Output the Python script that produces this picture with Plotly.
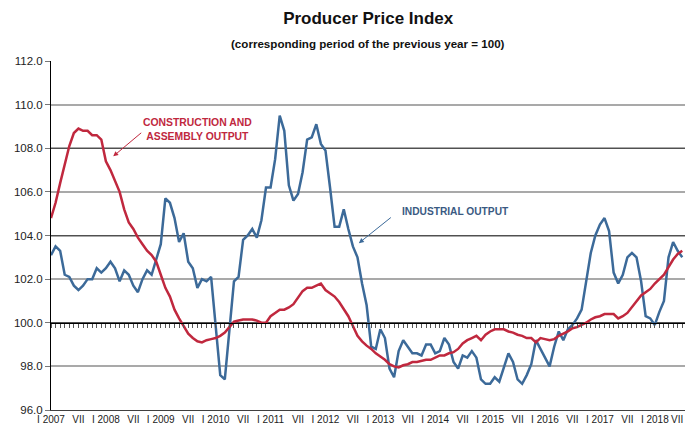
import plotly.graph_objects as go

# monthly index, Jan 2007 = 0 ... Jul 2018 = 138
tick_labels = ["I 2007", "VII", "I 2008", "VII", "I 2009", "VII", "I 2010", "VII",
               "I 2011", "VII", "I 2012", "VII", "I 2013", "VII", "I 2014", "VII",
               "I 2015", "VII", "I 2016", "VII", "I 2017", "VII", "I 2018", "VII"]

industrial = [
    103.1, 103.5, 103.3, 102.2, 102.1, 101.7, 101.5, 101.7, 102.0, 102.0,
    102.5, 102.3, 102.5, 102.8, 102.5, 101.9, 102.4, 102.2, 101.7, 101.4,
    102.0, 102.4, 102.2, 102.9, 103.6, 105.7, 105.5, 104.8, 103.7, 104.1,
    102.8, 102.5, 101.6, 102.0, 101.9, 102.1, 99.8, 97.6, 97.4, 99.7,
    101.9, 102.1, 103.8, 104.0, 104.3, 103.9, 104.7, 106.2, 106.2, 107.5,
    109.5, 108.8, 106.3, 105.6, 105.9, 106.9, 108.4, 108.5, 109.1, 108.2,
    107.9, 106.2, 104.4, 104.4, 105.2, 104.3, 103.5, 103.0, 101.8, 100.8,
    98.9, 98.8, 99.7, 99.3, 97.9, 97.5, 98.7, 99.2, 98.9, 98.6,
    98.6, 98.5, 99.0, 99.0, 98.6, 98.7, 99.3, 99.0, 98.2, 97.9,
    98.5, 98.4, 98.7, 98.4, 97.4, 97.2, 97.2, 97.5, 97.3, 97.9,
    98.6, 98.2, 97.4, 97.2, 97.6, 98.1, 99.2, 98.8, 98.4, 98.0,
    98.9, 99.6, 99.2, 99.7, 99.9, 100.2, 100.6, 101.9, 103.2, 104.0,
    104.5, 104.8, 104.2, 102.3, 101.8, 102.2, 103.0, 103.2, 103.0, 101.9,
    100.3, 100.2, 99.9, 100.5, 101.0, 103.0, 103.7, 103.3, 103.0,
]

construction = [
    104.8, 105.5, 106.4, 107.2, 108.1, 108.7, 108.9, 108.8, 108.8, 108.6,
    108.6, 108.4, 107.4, 107.0, 106.5, 106.0, 105.2, 104.6, 104.3, 103.9,
    103.6, 103.3, 103.1, 102.8, 102.2, 101.6, 101.2, 100.6, 100.2, 99.85,
    99.5, 99.3, 99.15, 99.1, 99.2, 99.25, 99.3, 99.4, 99.55, 99.8,
    100.05, 100.1, 100.15, 100.15, 100.15, 100.1, 100.0, 100.0, 100.3, 100.45,
    100.6, 100.6, 100.7, 100.85, 101.15, 101.45, 101.6, 101.6, 101.7, 101.8,
    101.5, 101.35, 101.2, 100.95, 100.6, 100.3, 99.85, 99.4, 99.15, 98.95,
    98.8, 98.6, 98.45, 98.3, 98.1, 98.0, 97.95, 98.05, 98.1, 98.2,
    98.2, 98.25, 98.3, 98.3, 98.4, 98.5, 98.5, 98.6, 98.65, 98.8,
    99.05, 99.2, 99.3, 99.4, 99.2, 99.45, 99.6, 99.7, 99.7, 99.7,
    99.6, 99.55, 99.45, 99.4, 99.3, 99.3, 99.1, 99.3, 99.25, 99.2,
    99.25, 99.4, 99.5, 99.6, 99.75, 99.8, 99.9, 100.0, 100.15, 100.25,
    100.3, 100.4, 100.4, 100.4, 100.2, 100.3, 100.45, 100.7, 101.0, 101.25,
    101.4, 101.55, 101.8, 102.0, 102.2, 102.55, 102.9, 103.15, 103.3,
]

months = list(range(len(industrial)))
BLUE = "#3c6a99"
RED = "#c0283e"
FONT = "Liberation Sans, Arial"
XR = [0, 138.6]
YR = [96, 112]

fig = go.Figure()
fig.add_trace(go.Scatter(x=months, y=industrial, mode="lines", name="Industrial output",
                         line=dict(color=BLUE, width=2.5), showlegend=False))
fig.add_trace(go.Scatter(x=months, y=construction, mode="lines", name="Construction and assembly output",
                         line=dict(color=RED, width=2.5), showlegend=False))
# empty trace so the 100-line axis and the dark grid axis get drawn
fig.add_trace(go.Scatter(x=[None], y=[None], xaxis="x2", yaxis="y2", showlegend=False, hoverinfo="skip"))

fig.update_layout(
    width=685, height=430,
    margin=dict(l=51, r=0, t=61, b=20),
    paper_bgcolor="white", plot_bgcolor="white",
    font=dict(family=FONT, color="#222222"),
    title=dict(text="<b>Producer Price Index</b>",
               x=0.5375, xanchor="center", y=1 - 18 / 430, yanchor="middle",
               font=dict(family=FONT, size=17, color="#111111")),
    # last label sits on the right edge, it is drawn separately below
    xaxis=dict(range=XR, tickvals=months[::6][:-1], ticktext=tick_labels[:-1], automargin=False,
               showgrid=False, zeroline=False, showline=True, linecolor="#404040",
               ticks="", ticklen=0, tickfont=dict(size=10, color="#222222")),
    yaxis=dict(range=YR, dtick=2, tickformat=".1f", gridcolor="#a9a9a9", gridwidth=1.5,
               zeroline=False, showline=True, linecolor="black", linewidth=1, automargin=False,
               ticks="outside", ticklen=5, tickcolor="#777777",
               tickfont=dict(size=11.5, color="#222222")),
    xaxis2=dict(range=XR, overlaying="x", anchor="free", position=0.25, side="bottom",
                dtick=1, tick0=0, ticks="outside", ticklen=4, tickcolor="#555555",
                showticklabels=False, showgrid=False, zeroline=False, automargin=False,
                showline=True, linecolor="black", linewidth=1),
    yaxis2=dict(range=YR, overlaying="y", anchor="x", dtick=4, tick0=96, automargin=False,
                gridcolor="#505050", gridwidth=1, showticklabels=False, ticks="",
                zeroline=False, showline=False),
)

fig.add_annotation(xref="paper", yref="paper", x=1, y=-9 / 349, xanchor="right", yanchor="middle",
                   text=tick_labels[-1], showarrow=False,
                   font=dict(family=FONT, size=10, color="#222222"))

# second title line
fig.add_annotation(xref="paper", yref="paper", x=0.5, y=(410 - 43) / 349, yanchor="middle",
                   text="<b>(corresponding period of the previous year = 100)</b>",
                   showarrow=False, font=dict(family=FONT, size=11.6, color="#111111"))

fig.add_annotation(x=32.1, y=108.86, text="<b>CONSTRUCTION AND<br>ASSEMBLY OUTPUT</b>",
                   showarrow=False, align="center",
                   font=dict(family=FONT, size=10.4, color=RED))
fig.add_annotation(x=13.6, y=107.63, ax=31, ay=-26, text=" ", showarrow=True,
                   arrowhead=2, arrowsize=1, arrowwidth=1, arrowcolor=RED)
fig.add_annotation(x=76.3, y=105.1, text="<b>INDUSTRIAL OUTPUT</b>", xanchor="left",
                   showarrow=False, font=dict(family=FONT, size=10.2, color="#3a5a82"))
fig.add_annotation(x=67.3, y=103.65, ax=35, ay=-28, text=" ", showarrow=True,
                   arrowhead=2, arrowsize=1, arrowwidth=1, arrowcolor=BLUE)

# page has a default 8px body margin; drop it so the figure sits at the window corner
fig.write_html("out.html", config={"displayModeBar": False},
               post_script="document.body.style.margin='0';")
